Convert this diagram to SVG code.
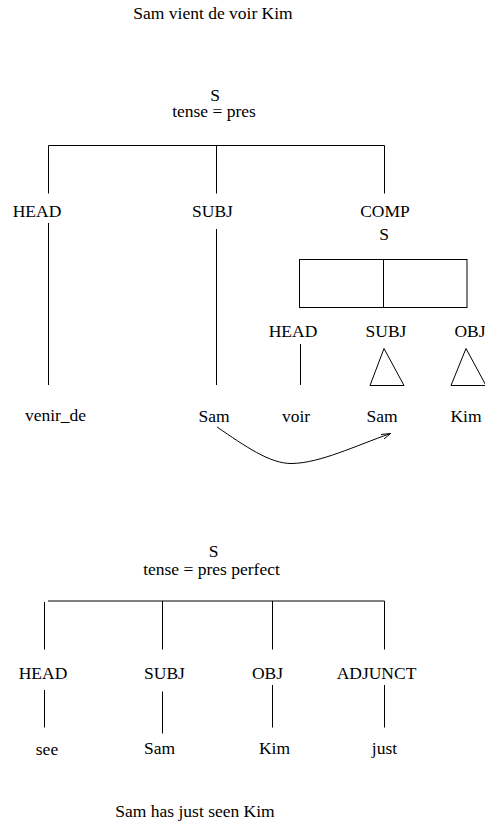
<svg xmlns="http://www.w3.org/2000/svg" width="485" height="823" viewBox="0 0 485 823">
<style>
text{font-family:"Liberation Serif","Times New Roman",serif;font-size:17.5px;fill:#000;text-anchor:middle}
.ln{stroke:#000;stroke-width:1;fill:none}
</style>
<rect width="485" height="823" fill="#fff"/>
<text x="213" y="18.5">Sam vient de voir Kim</text>
<g id="top-S"><text x="215" y="101">S</text><text x="214" y="117">tense = pres</text></g>
<g id="top-HEAD"><text x="37" y="217">HEAD</text></g>
<g id="top-SUBJ"><text x="212.5" y="217">SUBJ</text></g>
<g id="top-COMP"><text x="385" y="217">COMP</text><text x="384" y="240">S</text></g>
<g id="comp-box"><rect class="ln" x="299.5" y="259.5" width="167.5" height="48"/><line class="ln" x1="383.5" y1="259.5" x2="383.5" y2="307.5"/></g>
<g id="inner-HEAD"><text x="293" y="337">HEAD</text></g>
<g id="inner-SUBJ"><text x="386" y="337">SUBJ</text><polygon class="ln" points="384,348.5 370,385.5 404,385.5"/></g>
<g id="inner-OBJ"><text x="470" y="337">OBJ</text><polygon class="ln" points="466,348.5 451,385.5 486,385.5"/></g>
<g id="w-venir"><text x="55.5" y="420.5">venir_de</text></g>
<g id="w-sam1"><text x="214" y="421.5">Sam</text></g>
<g id="w-voir"><text x="296" y="421.5">voir</text></g>
<g id="w-sam2"><text x="382" y="421.5">Sam</text></g>
<g id="w-kim1"><text x="466" y="421.5">Kim</text></g>
<g id="bot-S"><text x="213.5" y="557">S</text><text x="211.5" y="575">tense = pres perfect</text></g>
<g id="bot-HEAD"><text x="43" y="678.5">HEAD</text></g>
<g id="bot-SUBJ"><text x="164.5" y="678.5">SUBJ</text></g>
<g id="bot-OBJ"><text x="267.5" y="678.5">OBJ</text></g>
<g id="bot-ADJ"><text x="376.5" y="678.5">ADJUNCT</text></g>
<g id="w-see"><text x="47" y="755">see</text></g>
<g id="w-sam3"><text x="159.5" y="753.5">Sam</text></g>
<g id="w-kim2"><text x="274.5" y="753.5">Kim</text></g>
<g id="w-just"><text x="384.5" y="753.5">just</text></g>
<text x="195" y="817">Sam has just seen Kim</text>
<g id="connectors">
<path class="ln" d="M48.5,145.5H384.5M48.5,145.5V193.5M216.5,145.5V193.5M384.5,145.5V193.5"/>
<path class="ln" d="M48.5,223V385M216.5,229V385M300.5,344V385"/>
<path class="ln" d="M217,427 C245,446 270,464 292,463.5 C320,463 355,446 390.5,433.5"/>
<path class="ln" d="M381,434.5 L390.5,433.5 L384,439"/>
<path class="ln" d="M48,601H384.5M44.5,602V649.5M162.5,601V649.5M272.5,601V649.5M384.5,601V649.5"/>
<path class="ln" d="M44.5,690V727.5M162.5,691.5V733.5M272.5,685V727.5M384.5,685V727.5"/>
</g>
</svg>
